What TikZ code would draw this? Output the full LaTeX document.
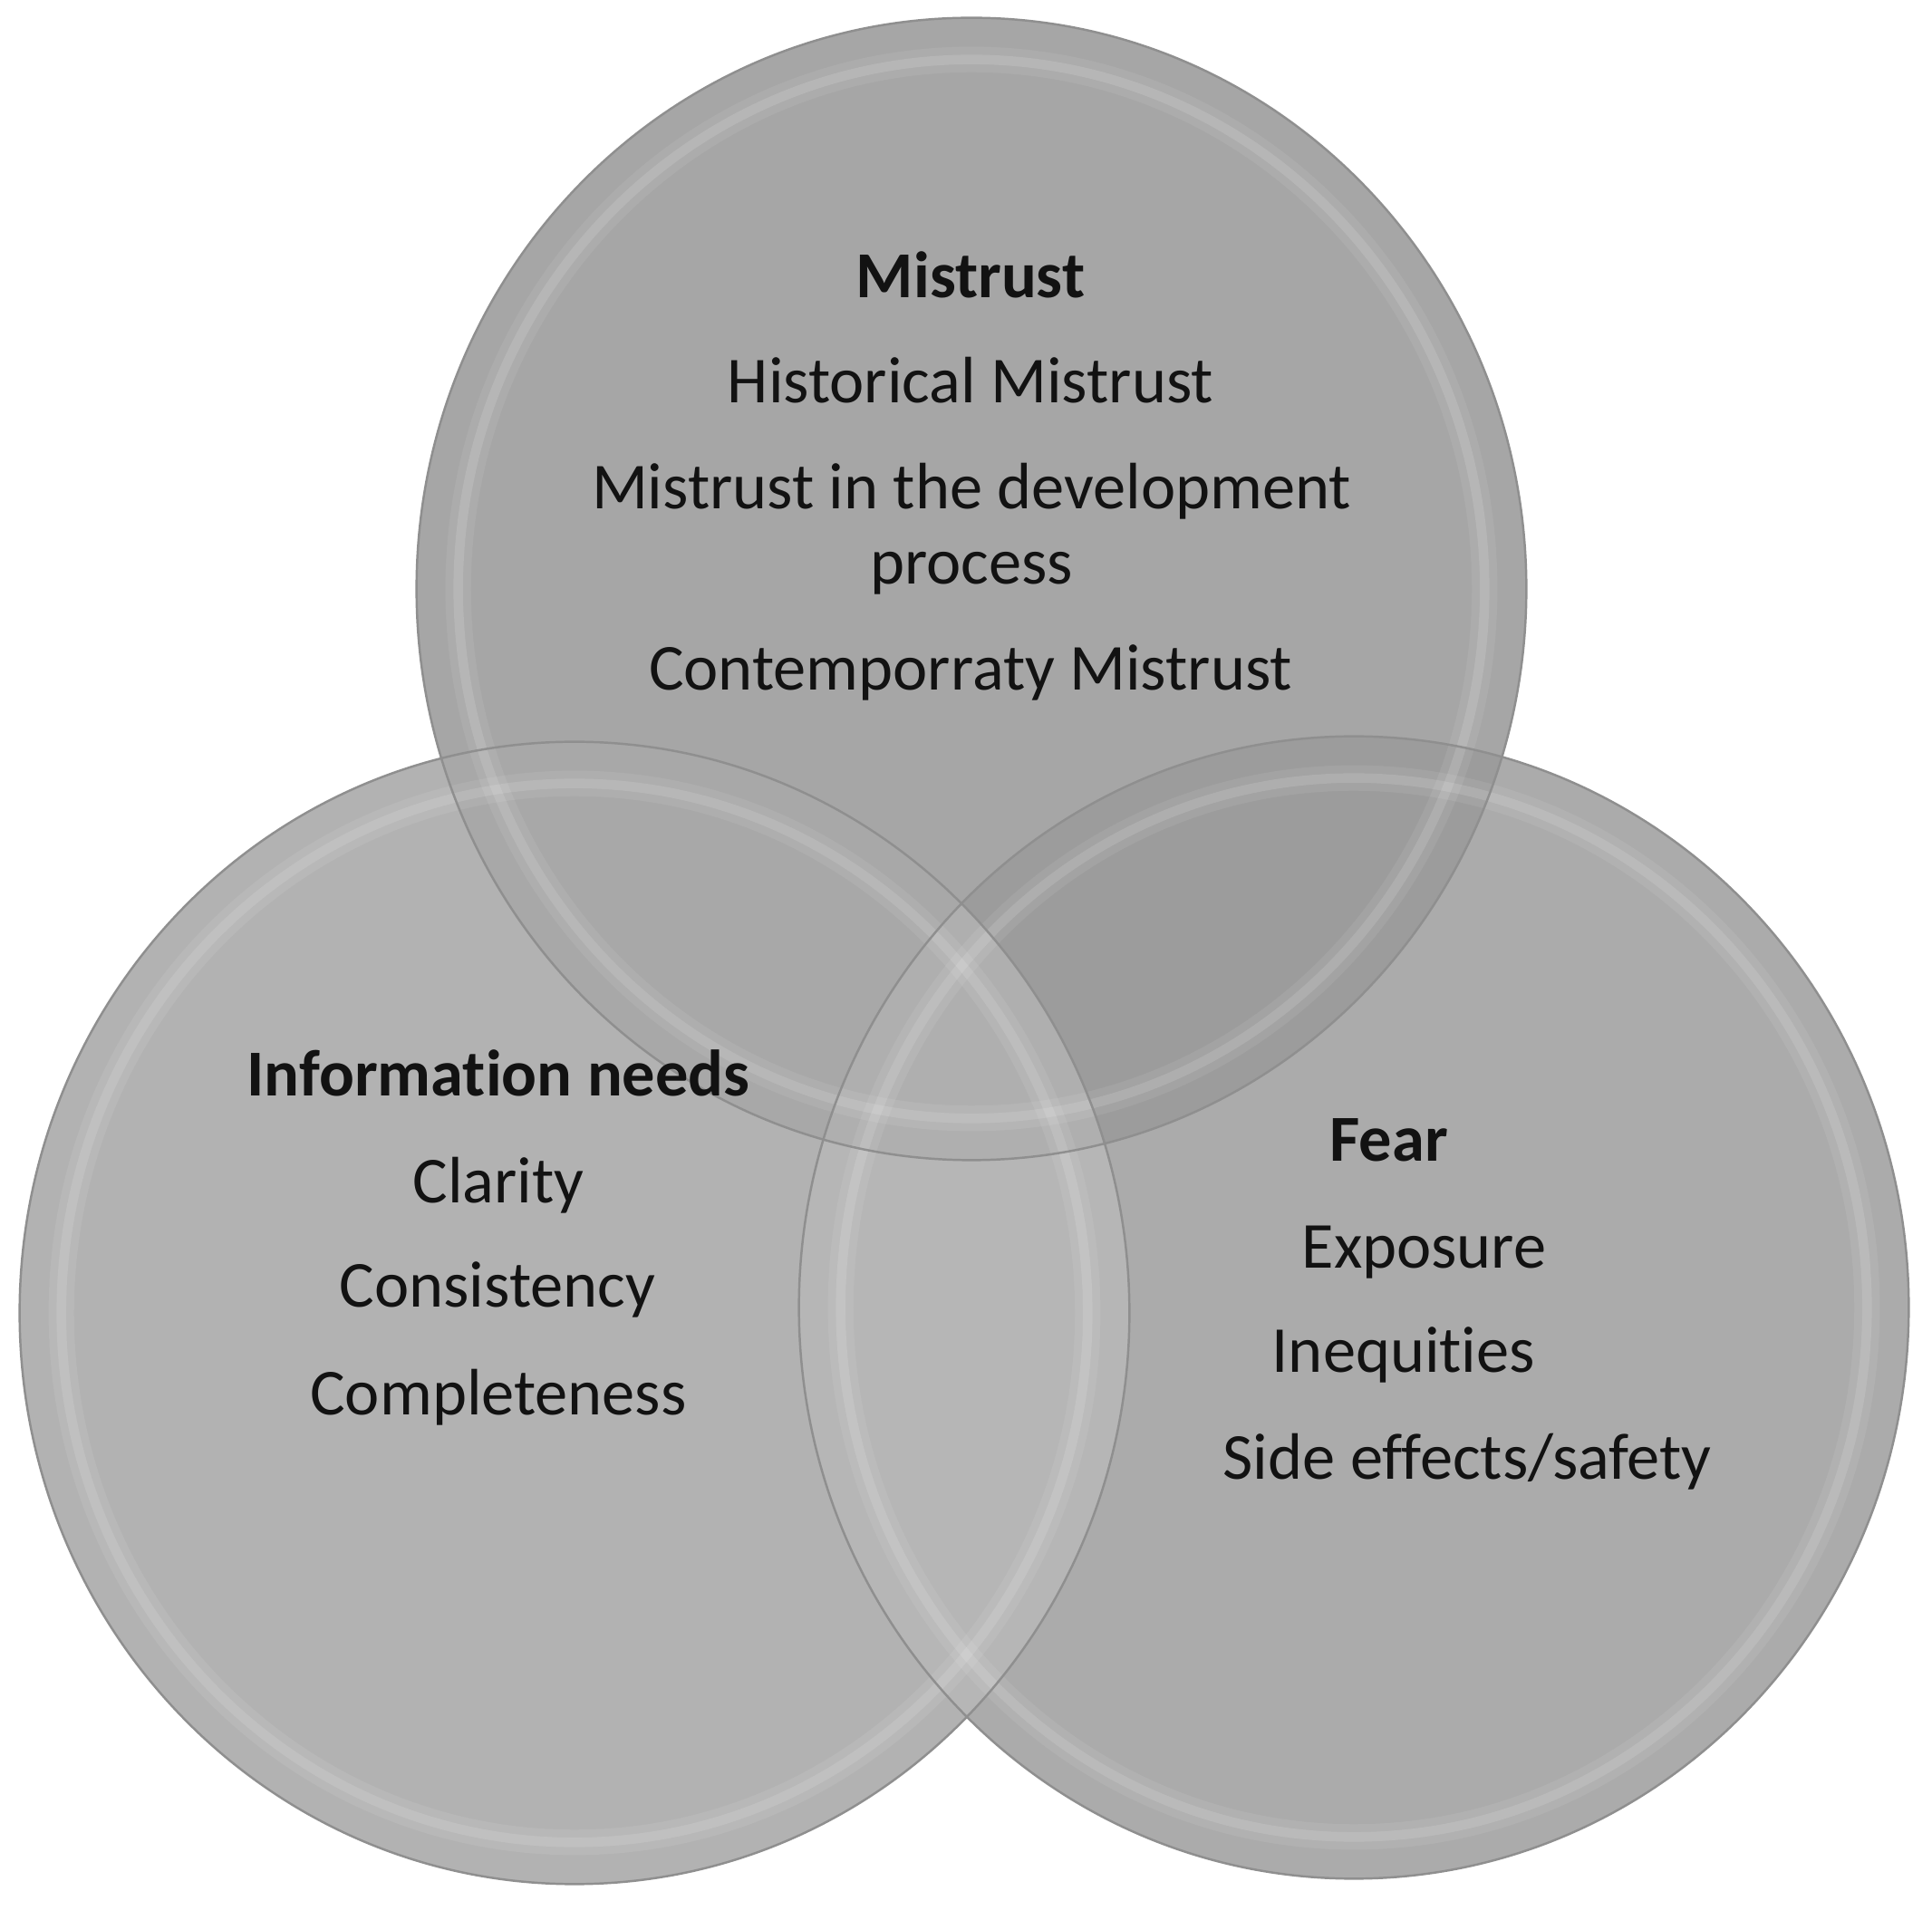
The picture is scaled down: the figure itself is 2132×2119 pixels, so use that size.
\documentclass[tikz,border=0pt]{standalone}
\usepackage{fontspec}
\setmainfont{Carlito}[Ligatures=NoCommon]
\definecolor{cTop}{gray}{0.650}
\definecolor{cLeft}{gray}{0.700}
\definecolor{cRight}{gray}{0.672}
\definecolor{cTL}{gray}{0.660}
\definecolor{cTR}{gray}{0.612}
\definecolor{cLR}{gray}{0.712}
\definecolor{cAll}{gray}{0.685}
\definecolor{cRim}{gray}{0.56}
\definecolor{cTxt}{gray}{0.07}
\begin{document}
\begin{tikzpicture}[x=0.01cm,y=-0.01cm,
  lbl/.style={inner sep=0pt, anchor=base, text=cTxt, font=\fontsize{20.6}{24}\selectfont},
  ttl/.style={lbl, font=\fontsize{20.6}{24}\selectfont\bfseries},
  rim/.style={draw=cRim, line width=0.7pt},
  glowwide/.style={draw=white, line width=8pt, draw opacity=0.08},
  glow/.style={draw=white, line width=3pt, draw opacity=0.12}]
\useasboundingbox (0,0) rectangle (2132,2119);
\fill[white] (0,0) rectangle (2132,2119);
\coordinate (cT) at (1072,650);
\coordinate (cL) at (634,1449);
\coordinate (cR) at (1494,1443);
\def\TOP{(cT) ellipse [x radius=6.12cm, y radius=6.30cm]}
\def\LEFT{(cL) ellipse [x radius=6.12cm, y radius=6.30cm]}
\def\RIGHT{(cR) ellipse [x radius=6.12cm, y radius=6.30cm]}
% base fills
\fill[cTop] \TOP;
\fill[cLeft] \LEFT;
\fill[cRight] \RIGHT;
\begin{scope}\clip \TOP; \fill[cTL] \LEFT; \end{scope}
\begin{scope}\clip \TOP; \fill[cTR] \RIGHT; \end{scope}
\begin{scope}\clip \LEFT; \fill[cLR] \RIGHT; \end{scope}
\begin{scope}\clip \TOP; \clip \LEFT; \fill[cAll] \RIGHT; \end{scope}
% inner light rings
\foreach \c in {cT,cL,cR}{
  \draw[glowwide] (\c) ellipse [x radius=5.66cm, y radius=5.84cm];
  \draw[glow] (\c) ellipse [x radius=5.66cm, y radius=5.84cm];
}
% outlines
\foreach \c in {cT,cL,cR}{
  \draw[rim] (\c) ellipse [x radius=6.12cm, y radius=6.30cm];
}
% texts
\node[ttl] (mt) at (1071,329) {Mistrust};
\node[lbl] (m1) at (1071,445) {Historical Mistrust};
\node[lbl] (m2) at (1072,562) {Mistrust in the development};
\node[lbl] (m3) at (1072,645) {process};
\node[lbl] (m4) at (1071,762) {Contemporraty Mistrust};
\node[ttl] (it) at (550,1210) {Information needs};
\node[lbl] (i1) at (550,1328) {Clarity};
\node[lbl] (i2) at (549,1443) {Consistency};
\node[lbl] (i3) at (550,1562) {Completeness};
\node[ttl, anchor=base west] (ft) at (1467,1282) {Fear};
\node[lbl, anchor=base west] (f1) at (1436,1400) {Exposure};
\node[lbl, anchor=base west] (f2) at (1403,1515) {Inequities};
\node[lbl, anchor=base west] (f3) at (1349,1633) {Side effects/safety};
\end{tikzpicture}
\end{document}
